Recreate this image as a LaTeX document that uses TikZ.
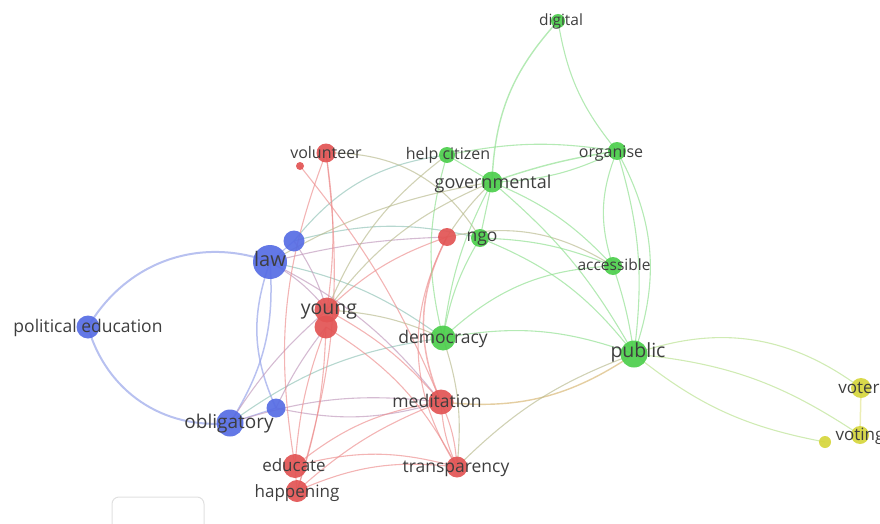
\documentclass[tikz,border=0pt]{standalone}
\usepackage{fontspec}
\setmainfont{Open Sans}
\definecolor{cBlue}{RGB}{86,108,228}
\definecolor{cRed}{RGB}{226,84,84}
\definecolor{cGreen}{RGB}{76,206,76}
\definecolor{cYellow}{RGB}{214,214,60}
\definecolor{eBlue}{RGB}{146,160,232}
\definecolor{eRed}{RGB}{236,140,140}
\definecolor{eGreen}{RGB}{140,222,140}
\definecolor{eYellow}{RGB}{226,228,140}
\definecolor{labgray}{RGB}{62,62,62}
\begin{document}
\begin{tikzpicture}[x=1pt,y=-1pt,
  edge/.style={line width=1.1pt, opacity=.65},
  eb/.style={edge, draw=eBlue},
  er/.style={edge, draw=eRed},
  eg/.style={edge, draw=eGreen},
  ey/.style={edge, draw=eYellow},
  ebr/.style={edge, draw=eBlue!50!eRed},
  ebg/.style={edge, draw=eBlue!45!eGreen},
  erg/.style={edge, draw=eRed!45!eGreen},
  egy/.style={edge, draw=eGreen!50!eYellow},
  dot/.style={circle, inner sep=0pt, minimum size=#1, fill opacity=.92},
  bdot/.style={dot=#1, fill=cBlue},
  rdot/.style={dot=#1, fill=cRed},
  gdot/.style={dot=#1, fill=cGreen},
  ydot/.style={dot=#1, fill=cYellow},
  lab/.style={text=labgray, inner sep=0pt, text height=.75em, text depth=.22em,
    yshift=-3pt, font=\fontsize{#1}{#1}\selectfont}
]
\useasboundingbox (0,0) rectangle (880,524);
\clip (0,0) rectangle (880,524);

% node centres
\coordinate (pe)     at (88,327);
\coordinate (law)    at (270,262);
\coordinate (sb1)    at (294,241);
\coordinate (obl)    at (230,423);
\coordinate (sb2)    at (276,408);
\coordinate (vol)    at (326,153);
\coordinate (sr)     at (300,166);
\coordinate (young)  at (327,310);
\coordinate (young2) at (326,327);
\coordinate (ngoR)   at (447,237);
\coordinate (med)    at (441,402);
\coordinate (tra)    at (457,467);
\coordinate (edu)    at (295,466);
\coordinate (hap)    at (297,491);
\coordinate (hc)     at (447,155);
\coordinate (gov)    at (492,182);
\coordinate (ngo)    at (480,238);
\coordinate (dig)    at (558,21);
\coordinate (org)    at (617,151);
\coordinate (acc)    at (613,266);
\coordinate (dem)    at (443,338);
\coordinate (pub)    at (634,354);
\coordinate (voter)  at (861,388);
\coordinate (voting) at (860,435);
\coordinate (sy)     at (825,442);

% faint panel frame, lower left
\draw[black!12, line width=1pt, rounded corners=7pt]
  (112,530) -- (112,497) -- (204,497) -- (204,530);

% ---- links: blue cluster
\draw[eb, line width=2pt] (pe) to[bend left=40] (law);
\draw[eb, line width=2pt] (pe) to[bend right=40] (obl);
\draw[eb, line width=1.5pt] (law) to[bend left=18] (obl);
\draw[eb, line width=1.5pt] (law) to[bend right=22] (sb2);
\draw[eb] (law) -- (sb1);
\draw[eb] (obl) -- (sb2);
\draw[ebr] (law) to[bend left=6] (ngoR);
\draw[ebg] (sb1) to[bend left=22] (hc);
\draw[ebg] (sb1) to[bend left=14] (ngo);
\draw[ebg] (law) to[bend left=12] (dem);
\draw[ebr] (law) to[bend left=10] (young);
\draw[ebr] (law) to[bend left=12] (med);
\draw[ebr] (sb2) to[bend right=14] (med);
\draw[ebr] (obl) to[bend left=12] (med);
\draw[ebg] (obl) to[bend left=14] (dem);
\draw[ebr] (obl) to[bend left=8] (young);
\draw[ebr] (sb2) to[bend left=6] (young2);
\draw[ebr] (sb1) to[bend left=8] (young);

% ---- links: red cluster
\draw[er] (vol) to[bend right=15] (edu);
\draw[er] (vol) to[bend left=12] (hap);
\draw[er] (vol) to[bend left=8] (young);
\draw[erg] (vol) to[bend left=30] (ngo);
\draw[er] (sr) to[bend left=8] (med);
\draw[er] (young) to[bend left=10] (med);
\draw[er] (young2) to[bend left=15] (tra);
\draw[er] (young2) to[bend right=8] (edu);
\draw[er] (young2) to[bend left=8] (hap);
\draw[er] (young) to[bend left=12] (ngoR);
\draw[erg] (young) to[bend left=10] (dem);
\draw[erg] (young) to[bend left=15] (gov);
\draw[er, line width=1.5pt] (ngoR) to[bend right=25] (med);
\draw[er] (ngoR) to[bend right=30] (tra);
\draw[er] (med) to[bend left=10] (tra);
\draw[er] (med) to[bend right=10] (tra);
\draw[er] (med) to[bend right=15] (edu);
\draw[er] (med) to[bend right=10] (hap);
\draw[er] (edu) to[bend left=15] (tra);
\draw[er] (hap) to[bend left=15] (tra);
\draw[er] (edu) -- (hap);
\draw[edge, draw={rgb,255:red,214;green,180;blue,110}, line width=1.4pt]
  (med) to[bend right=20] (pub);
\draw[erg] (gov) to[bend right=6] (ngoR);
\draw[erg] (ngoR) to[bend left=22] (acc);

% ---- links: green cluster
\draw[eg, line width=1.4pt] (dig) to[bend right=20] (gov);
\draw[eg] (dig) to[bend right=15] (org);
\draw[eg] (hc) -- (gov);
\draw[eg] (hc) to[bend left=10] (org);
\draw[eg, line width=1.4pt] (gov) to[bend left=5] (org);
\draw[eg] (gov) to[bend right=12] (org);
\draw[eg] (gov) to[bend left=12] (acc);
\draw[eg] (gov) to[bend left=10] (pub);
\draw[eg] (gov) to[bend right=10] (dem);
\draw[eg] (ngo) to[bend left=10] (acc);
\draw[eg] (ngo) to[bend left=15] (pub);
\draw[eg] (ngo) -- (gov);
\draw[eg] (org) to[bend right=20] (acc);
\draw[eg] (org) to[bend left=12] (pub);
\draw[eg] (org) to[bend left=24] (pub);
\draw[eg] (acc) to[bend left=5] (pub);
\draw[eg] (dem) to[bend left=15] (pub);
\draw[eg] (dem) to[bend left=20] (acc);
\draw[eg] (dem) to[bend left=10] (ngo);
\draw[eg] (hc) to[bend right=15] (dem);
\draw[erg] (hc) to[bend right=15] (young);
\draw[erg] (dem) to[bend left=12] (tra);
\draw[erg] (pub) to[bend right=12] (tra);
\draw[erg] (gov) to[bend right=10] (law);

% ---- links: yellow cluster
\draw[egy] (pub) to[bend left=28] (voter);
\draw[egy] (pub) to[bend left=14] (voting);
\draw[egy] (pub) to[bend right=14] (sy);
\draw[ey, line width=1.5pt] (voter) -- (voting);

% ---- items
\node[bdot=34] (law-c)    at (law) {};
\node[bdot=21] (sb1-c)    at (sb1) {};
\node[bdot=23] (pe-c)     at (pe) {};
\node[bdot=27] (obl-c)    at (obl) {};
\node[bdot=19] (sb2-c)    at (sb2) {};
\node[rdot=19] (vol-c)    at (vol) {};
\node[rdot=8]  (sr-c)     at (sr) {};
\node[rdot=25] (young-c)  at (young) {};
\node[rdot=23] (young2-c) at (young2) {};
\node[rdot=18] (ngoR-c)   at (ngoR) {};
\node[rdot=25] (med-c)    at (med) {};
\node[rdot=21] (tra-c)    at (tra) {};
\node[rdot=24] (edu-c)    at (edu) {};
\node[rdot=22] (hap-c)    at (hap) {};
\node[gdot=16] (hc-c)     at (hc) {};
\node[gdot=21] (gov-c)    at (gov) {};
\node[gdot=18] (ngo-c)    at (ngo) {};
\node[gdot=14] (dig-c)    at (dig) {};
\node[gdot=18] (org-c)    at (org) {};
\node[gdot=18] (acc-c)    at (acc) {};
\node[gdot=25] (dem-c)    at (dem) {};
\node[gdot=27] (pub-c)    at (pub) {};
\node[ydot=20] (voter-c)  at (voter) {};
\node[ydot=18] (voting-c) at (voting) {};
\node[ydot=12] (sy-c)     at (sy) {};

% ---- labels
\node[lab=15.5] (t-dig)   at (561,20)  {digital};
\node[lab=16]   (t-vol)   at (326,153) {volunteer};
\node[lab=16]   (t-hc)    at (448,154) {help citizen};
\node[lab=16]   (t-org)   at (611,152) {organise};
\node[lab=18]   (t-gov)   at (493,183) {governmental};
\node[lab=17.5] (t-ngo)   at (482,236) {ngo};
\node[lab=20]   (t-law)   at (270,261) {law};
\node[lab=15.5] (t-acc)   at (614,265) {accessible};
\node[lab=17.5] (t-pe)    at (88,327)  {political education};
\node[lab=19.5] (t-young) at (329,309) {young};
\node[lab=17.5] (t-dem)   at (443,338) {democracy};
\node[lab=19.5] (t-pub)   at (638,352) {public};
\node[lab=17]   (t-voter) at (859,388) {voter};
\node[lab=17]   (t-voting)at (860,435) {voting};
\node[lab=17.5] (t-med)   at (437,402) {meditation};
\node[lab=19]   (t-obl)   at (229,423) {obligatory};
\node[lab=17]   (t-edu)   at (294,466) {educate};
\node[lab=17.5] (t-tra)   at (456,467) {transparency};
\node[lab=17]   (t-hap)   at (297,492) {happening};
\end{tikzpicture}
\end{document}
